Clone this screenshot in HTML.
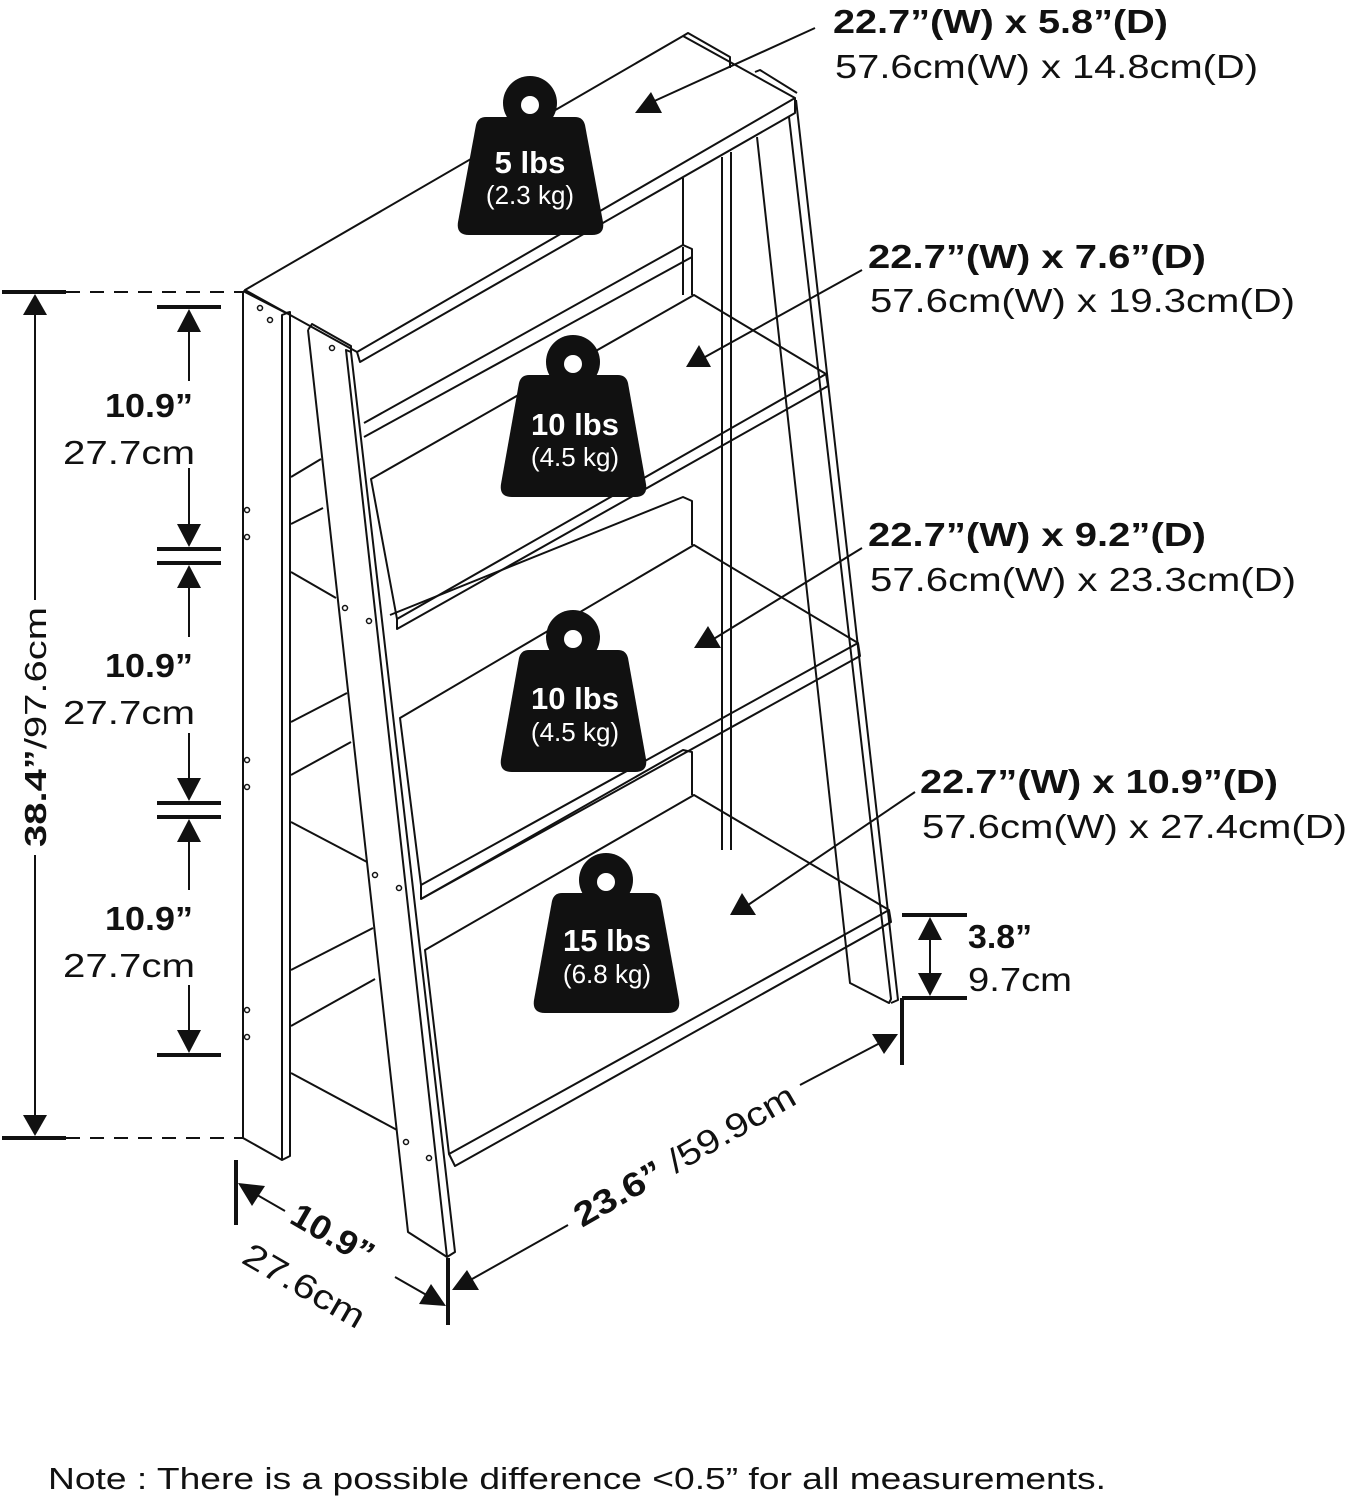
<!DOCTYPE html>
<html><head><meta charset="utf-8"><style>
html,body{margin:0;padding:0;background:#fff;}
svg{display:block;}
text{font-family:"Liberation Sans",sans-serif;fill:#111;}
.b{font-weight:bold;}
</style></head><body>
<svg width="1349" height="1500" viewBox="0 0 1349 1500" xmlns="http://www.w3.org/2000/svg">
<g fill="none" stroke="#111" stroke-width="2" stroke-linejoin="round">
<polyline points="243,291 243,1138 282,1160 290,1156 290,312 282,315 282,1160"/>
<polyline points="243,291 286,313 290,312"/>
<polygon points="245,290 683,36 795,98 357,352"/>
<polyline points="357,352 360,362 795,113 795,98"/>
<polyline points="683,36 688,33 730,57 730,68"/>
<polyline points="755,72 760,70 797,93"/>
<polyline points="308,330 408,1232 447,1257 455,1252 351,352"/>
<polyline points="308,330 312,324 351,346 351,352 346,350 447,1257"/>
<polyline points="757,137 850,983 889,1003 891,999 789,117"/>
<polyline points="796,100 898,1000 891,1003"/>
<line x1="722" y1="157" x2="722" y2="811"/>
<line x1="731" y1="152" x2="731" y2="811"/>
<line x1="683" y1="178" x2="683" y2="245"/>
<polyline points="364,423 683,245 692,249 692,295"/>
<line x1="364" y1="437" x2="692" y2="257"/>
<polygon points="371,479 694,295 826,374 397,619"/>
<polyline points="397,619 397,629 828,386 826,374"/>
<line x1="291" y1="477" x2="321" y2="459"/>
<line x1="291" y1="524" x2="323" y2="508"/>
<line x1="291" y1="572" x2="336" y2="598"/>
<line x1="683" y1="295" x2="683" y2="247"/>
<polyline points="390,615 683,497 692,501 692,545"/>
<polygon points="400,718 694,545 858,643 421,885"/>
<polyline points="421,885 421,899 860,656 858,643"/>
<line x1="291" y1="722" x2="347" y2="693"/>
<line x1="291" y1="775" x2="351" y2="742"/>
<line x1="291" y1="822" x2="367" y2="862"/>
<polyline points="421,899 683,750 692,752 692,795"/>
<polygon points="425,950 694,795 889,910 449,1154"/>
<polyline points="449,1154 455,1166 891,922 889,910"/>
<line x1="291" y1="970" x2="373" y2="928"/>
<line x1="291" y1="1026" x2="375" y2="979"/>
<line x1="291" y1="1073" x2="397" y2="1130"/>
<line x1="722" y1="811" x2="722" y2="850"/>
<line x1="731" y1="811" x2="731" y2="850"/>
</g>
<g fill="#fff" stroke="#111" stroke-width="1.5">
<circle cx="260" cy="308" r="2.5"/><circle cx="270" cy="320" r="2.5"/>
<circle cx="332" cy="348" r="2.5"/>
<circle cx="247" cy="510" r="2.5"/><circle cx="247" cy="537" r="2.5"/>
<circle cx="247" cy="760" r="2.5"/><circle cx="247" cy="787" r="2.5"/>
<circle cx="247" cy="1010" r="2.5"/><circle cx="247" cy="1037" r="2.5"/>
<circle cx="345" cy="608" r="2.5"/><circle cx="369" cy="621" r="2.5"/>
<circle cx="375" cy="875" r="2.5"/><circle cx="399" cy="888" r="2.5"/>
<circle cx="406" cy="1142" r="2.5"/><circle cx="429" cy="1158" r="2.5"/>
</g>
<g fill="#111">
<circle cx="530" cy="103" r="27"/>
<path d="M486,117 L575,117 Q583,117 585,125 L603,222 Q605,235 592,235 L469,235 Q456,235 458,222 L476,125 Q478,117 486,117Z"/>
<circle cx="573" cy="362" r="27"/>
<path d="M529,375 L618,375 Q626,375 628,383 L646,484 Q648,497 635,497 L512,497 Q499,497 501,484 L519,383 Q521,375 529,375Z"/>
<circle cx="573" cy="637" r="27"/>
<path d="M529,650 L618,650 Q626,650 628,658 L646,759 Q648,772 635,772 L512,772 Q499,772 501,759 L519,658 Q521,650 529,650Z"/>
<circle cx="606" cy="880" r="27"/>
<path d="M562,893 L651,893 Q659,893 661,901 L679,1000 Q681,1013 668,1013 L545,1013 Q532,1013 534,1000 L552,901 Q554,893 562,893Z"/>
</g>
<g fill="#fff">
<circle cx="530" cy="105" r="9"/><circle cx="573" cy="364" r="9"/><circle cx="573" cy="639" r="9"/><circle cx="606" cy="882" r="9"/>
</g>
<g text-anchor="middle">
<text x="530" y="173" class="b" font-size="31" style="fill:#fff">5 lbs</text>
<text x="530" y="204" font-size="26" style="fill:#fff">(2.3 kg)</text>
<text x="575" y="435" class="b" font-size="31" style="fill:#fff">10 lbs</text>
<text x="575" y="466" font-size="26" style="fill:#fff">(4.5 kg)</text>
<text x="575" y="709" class="b" font-size="31" style="fill:#fff">10 lbs</text>
<text x="575" y="741" font-size="26" style="fill:#fff">(4.5 kg)</text>
<text x="607" y="951" class="b" font-size="31" style="fill:#fff">15 lbs</text>
<text x="607" y="983" font-size="26" style="fill:#fff">(6.8 kg)</text>
</g>
<g stroke="#111" stroke-width="2">
<line x1="815" y1="28" x2="650" y2="103"/>
<line x1="862" y1="270" x2="705" y2="357"/>
<line x1="862" y1="548" x2="712" y2="640"/>
<line x1="915" y1="792" x2="748" y2="905"/>
</g>
<g fill="#111">
<polygon points="635,113 651,92 662,113"/>
<polygon points="686,367 699,345 711,367"/>
<polygon points="694,648 708,626 721,648"/>
<polygon points="730,915 742,893 756,915"/>
</g>
<text x="833" y="33" class="b" font-size="33" textLength="335" lengthAdjust="spacingAndGlyphs">22.7”(W)  x 5.8”(D)</text>
<text x="835" y="78" font-size="33" textLength="423" lengthAdjust="spacingAndGlyphs">57.6cm(W) x 14.8cm(D)</text>
<text x="868" y="268" class="b" font-size="33" textLength="338" lengthAdjust="spacingAndGlyphs">22.7”(W)  x 7.6”(D)</text>
<text x="870" y="312" font-size="33" textLength="425" lengthAdjust="spacingAndGlyphs">57.6cm(W) x 19.3cm(D)</text>
<text x="868" y="546" class="b" font-size="33" textLength="338" lengthAdjust="spacingAndGlyphs">22.7”(W)  x 9.2”(D)</text>
<text x="870" y="591" font-size="33" textLength="426" lengthAdjust="spacingAndGlyphs">57.6cm(W) x 23.3cm(D)</text>
<text x="920" y="793" class="b" font-size="33" textLength="358" lengthAdjust="spacingAndGlyphs">22.7”(W)  x 10.9”(D)</text>
<text x="922" y="838" font-size="33" textLength="425" lengthAdjust="spacingAndGlyphs">57.6cm(W) x 27.4cm(D)</text>
<g stroke="#111">
<line x1="2" y1="292" x2="66" y2="292" stroke-width="4"/>
<line x1="2" y1="1138" x2="66" y2="1138" stroke-width="4"/>
<line x1="66" y1="292" x2="243" y2="292" stroke-width="2" stroke-dasharray="14,10"/>
<line x1="66" y1="1138" x2="243" y2="1138" stroke-width="2" stroke-dasharray="14,10"/>
<line x1="35" y1="310" x2="35" y2="600" stroke-width="2"/>
<line x1="35" y1="855" x2="35" y2="1120" stroke-width="2"/>
</g>
<g fill="#111">
<polygon points="35,294 23,315 47,315"/>
<polygon points="35,1136 23,1115 47,1115"/>
</g>
<text transform="translate(46,727) rotate(-90)" text-anchor="middle" font-size="31" textLength="240" lengthAdjust="spacingAndGlyphs"><tspan class="b">38.4”</tspan>/97.6cm</text>
<g stroke="#111">
<line x1="157" y1="307" x2="221" y2="307" stroke-width="4"/>
<line x1="157" y1="549" x2="221" y2="549" stroke-width="4"/>
<line x1="157" y1="563" x2="221" y2="563" stroke-width="4"/>
<line x1="157" y1="803" x2="221" y2="803" stroke-width="4"/>
<line x1="157" y1="817" x2="221" y2="817" stroke-width="4"/>
<line x1="157" y1="1055" x2="221" y2="1055" stroke-width="4"/>
<line x1="189" y1="325" x2="189" y2="381" stroke-width="2"/>
<line x1="189" y1="468" x2="189" y2="528" stroke-width="2"/>
<line x1="189" y1="582" x2="189" y2="637" stroke-width="2"/>
<line x1="189" y1="733" x2="189" y2="782" stroke-width="2"/>
<line x1="189" y1="836" x2="189" y2="890" stroke-width="2"/>
<line x1="189" y1="985" x2="189" y2="1034" stroke-width="2"/>
</g>
<g fill="#111">
<polygon points="189,309 177,332 201,332"/>
<polygon points="189,547 177,524 201,524"/>
<polygon points="189,565 177,588 201,588"/>
<polygon points="189,801 177,778 201,778"/>
<polygon points="189,819 177,842 201,842"/>
<polygon points="189,1053 177,1030 201,1030"/>
</g>
<text x="105" y="417" class="b" font-size="33" textLength="88" lengthAdjust="spacingAndGlyphs">10.9”</text>
<text x="63" y="464" font-size="33" textLength="132" lengthAdjust="spacingAndGlyphs">27.7cm</text>
<text x="105" y="677" class="b" font-size="33" textLength="88" lengthAdjust="spacingAndGlyphs">10.9”</text>
<text x="63" y="724" font-size="33" textLength="132" lengthAdjust="spacingAndGlyphs">27.7cm</text>
<text x="105" y="930" class="b" font-size="33" textLength="88" lengthAdjust="spacingAndGlyphs">10.9”</text>
<text x="63" y="977" font-size="33" textLength="132" lengthAdjust="spacingAndGlyphs">27.7cm</text>
<g stroke="#111">
<line x1="902" y1="915" x2="967" y2="915" stroke-width="4"/>
<line x1="902" y1="998" x2="967" y2="998" stroke-width="4"/>
<line x1="902" y1="998" x2="902" y2="1065" stroke-width="4"/>
<line x1="930" y1="930" x2="930" y2="985" stroke-width="2"/>
<line x1="448" y1="1258" x2="448" y2="1325" stroke-width="4"/>
<line x1="236" y1="1160" x2="236" y2="1225" stroke-width="4"/>
<line x1="252" y1="1192" x2="285" y2="1211" stroke-width="2"/>
<line x1="395" y1="1277" x2="430" y2="1297" stroke-width="2"/>
<line x1="465" y1="1283" x2="568" y2="1225" stroke-width="2"/>
<line x1="800" y1="1085" x2="880" y2="1043" stroke-width="2"/>
</g>
<g fill="#111">
<polygon points="930,917 918,940 942,940"/>
<polygon points="930,996 918,973 942,973"/>
<polygon points="238,1183 265,1186 252,1206"/>
<polygon points="446,1306 419,1304 431,1284"/>
<polygon points="452,1290 479,1290 467,1270"/>
<polygon points="898,1034 872,1034 884,1054"/>
</g>
<text x="968" y="948" class="b" font-size="33" textLength="64" lengthAdjust="spacingAndGlyphs">3.8”</text>
<text x="968" y="991" font-size="33" textLength="104" lengthAdjust="spacingAndGlyphs">9.7cm</text>
<text transform="translate(582,1228) rotate(-30)" font-size="34" textLength="250" lengthAdjust="spacingAndGlyphs"><tspan class="b">23.6”</tspan> /59.9cm</text>
<text transform="translate(288,1222) rotate(30)" class="b" font-size="34" textLength="90" lengthAdjust="spacingAndGlyphs">10.9”</text>
<text transform="translate(240,1262) rotate(30)" font-size="34" textLength="135" lengthAdjust="spacingAndGlyphs">27.6cm</text>
<text x="48" y="1489" font-size="31" textLength="1058" lengthAdjust="spacingAndGlyphs">Note : There is a possible difference &lt;0.5” for all measurements.</text>
</svg>
</body></html>
